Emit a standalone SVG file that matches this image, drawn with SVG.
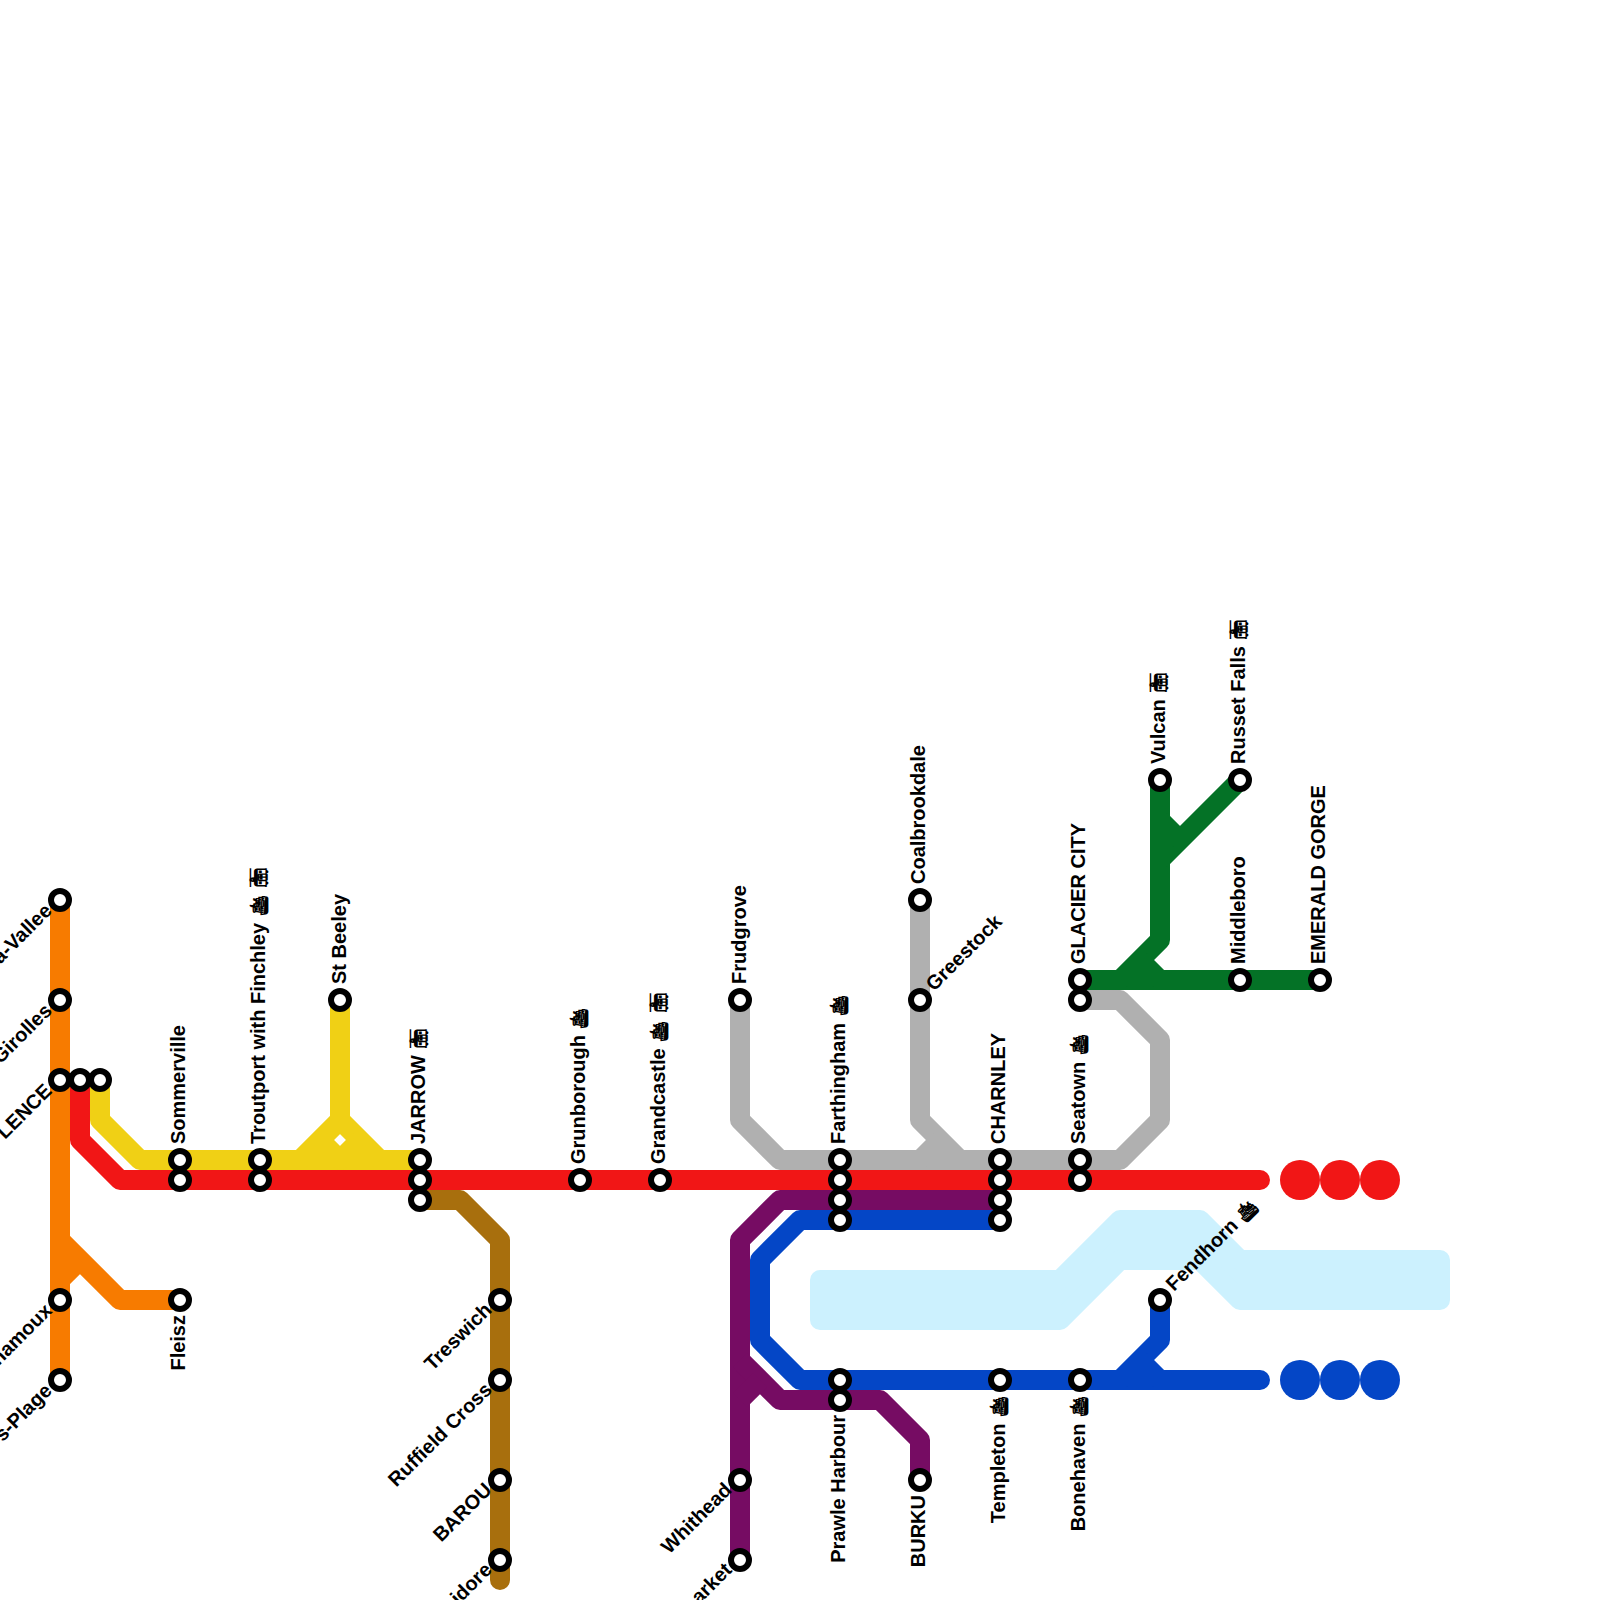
<svg xmlns="http://www.w3.org/2000/svg" width="1600" height="1600" viewBox="0 0 1600 1600">
<style>
.l{fill:none;stroke-width:20;stroke-linejoin:round;stroke-linecap:butt}
.s{fill:#fff;stroke:#000;stroke-width:6}
text{font-family:"Liberation Sans","DejaVu Sans",sans-serif;font-size:20px;font-weight:700;fill:#000}
.e{text-anchor:end}
.i{font-size:18px;font-family:"DejaVu Sans",sans-serif}
</style>
<rect width="1600" height="1600" fill="#fff"/>
<polygon id="river" points="820,1280 1060,1280 1120,1220 1200,1220 1240,1260 1440,1260 1440,1300 1240,1300 1200,1260 1120,1260 1060,1320 820,1320" fill="#ccf1fe" stroke="#ccf1fe" stroke-width="20" stroke-linejoin="round"/>
<g id="connectors">
<g stroke="#f77b00" class="l"><path d="M60 900V1380"/><path d="M60 1240L120 1300H180"/><path d="M60 1280L80 1260"/></g>
<g stroke="#f0d015" class="l"><path d="M100 1080V1120L140 1160H420"/><path d="M340 1000V1120L300 1160"/><path d="M340 1120L380 1160"/><path d="M320 1140L340 1160L360 1140"/></g>
<g stroke="#b0b0b0" class="l"><path d="M740 1000V1120L780 1160H1120L1160 1120V1040L1120 1000H1080"/><path d="M920 900V1120L960 1160"/><path d="M940 1140L920 1160"/></g>
<g stroke="#a86f0d" class="l"><path d="M420 1200H460L500 1240V1580" stroke-linecap="round"/></g>
<g stroke="#760c63" class="l"><path d="M1000 1200H780L740 1240V1560"/><path d="M740 1360L780 1400H880L920 1440V1480"/><path d="M740 1400L760 1380"/></g>
<g stroke="#0446c6" class="l"><path d="M1000 1220H800L760 1260V1340L800 1380H1260" stroke-linecap="round"/><path d="M1160 1300V1340L1120 1380"/><path d="M1140 1360L1160 1380"/></g>
<g stroke="#f11616" class="l"><path d="M80 1080V1140L120 1180H1260" stroke-linecap="round"/></g>
<g stroke="#047226" class="l"><path d="M1080 980H1320"/><path d="M1160 780V940L1120 980"/><path d="M1140 960L1160 980"/><path d="M1240 780L1160 860"/><path d="M1160 820L1180 840"/></g>
</g>
<g fill="#f11616"><circle cx="1300" cy="1180" r="20"/><circle cx="1340" cy="1180" r="20"/><circle cx="1380" cy="1180" r="20"/></g>
<g fill="#0446c6"><circle cx="1300" cy="1380" r="20"/><circle cx="1340" cy="1380" r="20"/><circle cx="1380" cy="1380" r="20"/></g>
<g id="stations">
<g id="n1"><circle class="s" cx="60" cy="900" r="9"/><text class="e" transform="translate(53 912) rotate(-45)">a-Vallee</text></g>
<g id="n2"><circle class="s" cx="60" cy="1000" r="9"/><text class="e" transform="translate(53 1012) rotate(-45)">Girolles</text></g>
<g id="n3"><circle class="s" cx="60" cy="1080" r="9"/><text class="e" transform="translate(53 1092) rotate(-45)">LENCE</text></g>
<g id="n4"><circle class="s" cx="80" cy="1080" r="9"/></g>
<g id="n5"><circle class="s" cx="100" cy="1080" r="9"/></g>
<g id="n6"><circle class="s" cx="60" cy="1300" r="9"/><text class="e" transform="translate(53 1312) rotate(-45)">hamoux</text></g>
<g id="n7"><circle class="s" cx="60" cy="1380" r="9"/><text class="e" transform="translate(53 1392) rotate(-45)">s-Plage</text></g>
<g id="n8"><circle class="s" cx="180" cy="1160" r="9"/><text transform="translate(185 1144) rotate(-90)">Sommerville</text></g>
<circle class="s" cx="180" cy="1180" r="9"/>
<g id="n9"><circle class="s" cx="180" cy="1300" r="9"/><text class="e" transform="translate(185 1315) rotate(-90)">Fleisz</text></g>
<g id="n10"><circle class="s" cx="260" cy="1160" r="9"/><text transform="translate(265 1144) rotate(-90)">Troutport with Finchley <tspan class="i">🛳︎</tspan> <tspan class="i">🚋︎</tspan></text></g>
<circle class="s" cx="260" cy="1180" r="9"/>
<g id="n11"><circle class="s" cx="340" cy="1000" r="9"/><text transform="translate(346 984) rotate(-90)">St Beeley</text></g>
<g id="n12"><circle class="s" cx="420" cy="1160" r="9"/><text transform="translate(425 1144) rotate(-90)">JARROW <tspan class="i">🚋︎</tspan></text></g>
<circle class="s" cx="420" cy="1180" r="9"/><circle class="s" cx="420" cy="1200" r="9"/>
<g id="n13"><circle class="s" cx="500" cy="1300" r="9"/><text class="e" transform="translate(493 1311) rotate(-45)">Treswich</text></g>
<g id="n14"><circle class="s" cx="500" cy="1380" r="9"/><text class="e" transform="translate(493 1391) rotate(-45)">Ruffield Cross</text></g>
<g id="n15"><circle class="s" cx="500" cy="1480" r="9"/><text class="e" transform="translate(493 1491) rotate(-45)">BAROU</text></g>
<g id="n16"><circle class="s" cx="500" cy="1560" r="9"/><text class="e" transform="translate(493 1571) rotate(-45)">idore</text></g>
<g id="n17"><circle class="s" cx="580" cy="1180" r="9"/><text transform="translate(585 1164) rotate(-90)">Grunborough <tspan class="i">🛳︎</tspan></text></g>
<g id="n18"><circle class="s" cx="660" cy="1180" r="9"/><text transform="translate(665 1164) rotate(-90)">Grandcastle <tspan class="i">🛳︎</tspan> <tspan class="i">🚋︎</tspan></text></g>
<g id="n19"><circle class="s" cx="740" cy="1000" r="9"/><text transform="translate(746 984) rotate(-90)">Frudgrove</text></g>
<g id="n20"><circle class="s" cx="740" cy="1480" r="9"/><text class="e" transform="translate(733 1491) rotate(-45)">Whithead</text></g>
<g id="n21"><circle class="s" cx="740" cy="1560" r="9"/><text class="e" transform="translate(733 1571) rotate(-45)">arket</text></g>
<g id="n22"><circle class="s" cx="840" cy="1160" r="9"/><text transform="translate(845 1144) rotate(-90)">Farthingham <tspan class="i">🛳︎</tspan></text></g>
<circle class="s" cx="840" cy="1180" r="9"/><circle class="s" cx="840" cy="1200" r="9"/><circle class="s" cx="840" cy="1220" r="9"/>
<g id="n23"><circle class="s" cx="840" cy="1380" r="9"/></g>
<g id="n24"><circle class="s" cx="840" cy="1400" r="9"/><text class="e" transform="translate(845 1415) rotate(-90)">Prawle Harbour</text></g>
<g id="n25"><circle class="s" cx="920" cy="900" r="9"/><text transform="translate(925 884) rotate(-90)">Coalbrookdale</text></g>
<g id="n26"><circle class="s" cx="920" cy="1000" r="9"/><text transform="translate(934 992) rotate(-45)">Greestock</text></g>
<g id="n27"><circle class="s" cx="920" cy="1480" r="9"/><text class="e" transform="translate(925 1495) rotate(-90)">BURKU</text></g>
<g id="n28"><circle class="s" cx="1000" cy="1160" r="9"/><text transform="translate(1005 1144) rotate(-90)">CHARNLEY</text></g>
<circle class="s" cx="1000" cy="1180" r="9"/><circle class="s" cx="1000" cy="1200" r="9"/><circle class="s" cx="1000" cy="1220" r="9"/>
<g id="n29"><circle class="s" cx="1000" cy="1380" r="9"/><text class="e" transform="translate(1005 1395) rotate(-90)">Templeton <tspan class="i">🛳︎</tspan></text></g>
<g id="n30"><circle class="s" cx="1080" cy="980" r="9"/><text transform="translate(1085 964) rotate(-90)">GLACIER CITY</text></g>
<g id="n31"><circle class="s" cx="1080" cy="1000" r="9"/></g>
<g id="n32"><circle class="s" cx="1080" cy="1160" r="9"/><text transform="translate(1085 1144) rotate(-90)">Seatown <tspan class="i">🛳︎</tspan></text></g>
<circle class="s" cx="1080" cy="1180" r="9"/>
<g id="n33"><circle class="s" cx="1080" cy="1380" r="9"/><text class="e" transform="translate(1085 1395) rotate(-90)">Bonehaven <tspan class="i">🛳︎</tspan></text></g>
<g id="n34"><circle class="s" cx="1160" cy="780" r="9"/><text transform="translate(1165 764) rotate(-90)">Vulcan <tspan class="i">🚋︎</tspan></text></g>
<g id="n35"><circle class="s" cx="1240" cy="780" r="9"/><text transform="translate(1245 764) rotate(-90)">Russet Falls <tspan class="i">🚋︎</tspan></text></g>
<g id="n36"><circle class="s" cx="1240" cy="980" r="9"/><text transform="translate(1245 964) rotate(-90)">Middleboro</text></g>
<g id="n37"><circle class="s" cx="1320" cy="980" r="9"/><text transform="translate(1325 964) rotate(-90)">EMERALD GORGE</text></g>
<g id="n38"><circle class="s" cx="1160" cy="1300" r="9"/><text transform="translate(1174 1292) rotate(-45)">Fendhorn <tspan class="i">🛳︎</tspan></text></g>
</g>
</svg>
